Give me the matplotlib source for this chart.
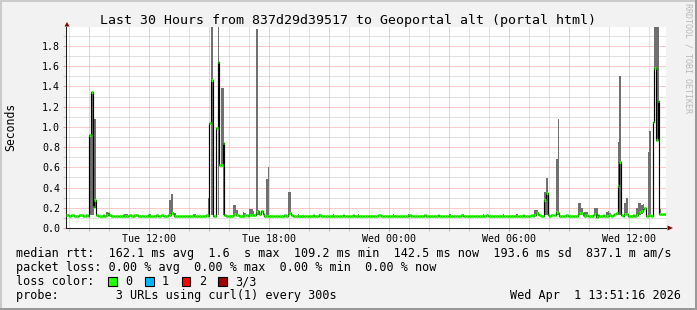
import numpy as np
import matplotlib
matplotlib.use('Agg')
import matplotlib.pyplot as plt
from matplotlib.patches import Rectangle, Polygon
from matplotlib.ticker import MultipleLocator, FuncFormatter

# median rtt of the 3 urls, one value per 5 minute step (ms)
median_ms = [
    125, 128, 122, 126, 124, 121, 119, 123, 127, 125, 120, 122, 124, 121, 920, 1350, 210, 280, 126, 122,
    119, 121, 124, 120, 131, 152, 133, 122, 120, 118, 121, 123, 119, 122, 125, 121, 118, 123, 126, 121,
    119, 124, 128, 122, 120, 117, 121, 119, 123, 125, 122, 120, 118, 121, 124, 120, 122, 126, 123, 119,
    121, 124, 128, 145, 136, 123, 121, 120, 118, 121, 123, 119, 122, 120, 118, 121, 124, 122, 119, 117,
    120, 122, 121, 119, 124, 122, 1040, 1460, 120, 121, 990, 1645, 620, 620, 840, 124, 121, 119, 123, 121,
    131, 142, 128, 125, 119, 122, 120, 124, 127, 121, 126, 132, 128, 124, 158, 170, 140, 165, 135, 122,
    118, 121, 119, 117, 121, 123, 120, 118, 122, 119, 121, 124, 121, 138, 148, 130, 119, 122, 120, 118,
    121, 123, 119, 117, 120, 122, 118, 121, 124, 120, 119, 122, 125, 121, 118, 120, 123, 119, 121, 117,
    120, 122, 119, 121, 118, 123, 126, 121, 119, 117, 120, 122, 124, 120, 118, 121, 119, 122, 120, 117,
    119, 121, 123, 120, 118, 121, 119, 124, 128, 122, 119, 121, 118, 120, 123, 121, 119, 117, 120, 122,
    121, 118, 120, 123, 119, 121, 125, 122, 118, 120, 122, 119, 121, 117, 120, 124, 121, 119, 122, 118,
    120, 119, 121, 124, 122, 118, 120, 121, 119, 123, 120, 118, 121, 122, 119, 117, 120, 125, 121, 119,
    122, 120, 118, 121, 119, 123, 121, 118, 120, 122, 119, 121, 124, 120, 118, 121, 119, 122, 120, 121,
    118, 120, 123, 121, 119, 122, 118, 120, 121, 119, 123, 120, 118, 121, 124, 122, 119, 120, 121, 124,
    121, 132, 150, 140, 128, 121, 119, 280, 350, 124, 121, 126, 130, 125, 160, 150, 123, 120, 122, 119,
    124, 120, 118, 121, 123, 119, 121, 138, 152, 145, 128, 121, 125, 122, 119, 123, 127, 140, 109, 125,
    118, 121, 124, 122, 119, 121, 126, 122, 130, 138, 150, 420, 650, 124, 121, 135, 142, 122, 118, 120,
    124, 121, 130, 145, 160, 170, 185, 198, 122, 120, 124, 121, 1050, 1580, 870, 1260, 140, 142, 143, 142.5,
]

# smoke (min .. max of the 3 urls) where it differs from the median: (step, lo ms, hi ms)
smoke_ms = [
    (0, 120, 140), (1, 120, 138),
    (14, 125, 920), (15, 125, 1350), (16, 130, 740), (17, 200, 1080),
    (24, 125, 160), (35, 118, 140), (36, 118, 138), (50, 120, 140),
    (62, 125, 280), (63, 125, 340), (64, 125, 160), (65, 120, 150),
    (76, 120, 140), (77, 120, 138),
    (85, 122, 300), (87, 130, 2500), (91, 130, 2500), (93, 620, 1380), (94, 130, 1380),
    (100, 122, 230), (101, 125, 230), (102, 122, 180),
    (106, 120, 160), (107, 120, 150), (110, 120, 190), (111, 125, 190), (112, 122, 170),
    (114, 130, 1970), (115, 130, 180),
    (120, 118, 480), (121, 118, 600),
    (133, 125, 360), (134, 130, 360),
    (139, 118, 135), (152, 118, 134), (160, 118, 134), (175, 118, 135), (196, 118, 136),
    (205, 118, 135), (230, 118, 136), (238, 118, 135), (250, 118, 135), (262, 118, 136), (270, 118, 134),
    (281, 122, 180), (282, 125, 180), (283, 122, 160),
    (287, 125, 360), (288, 125, 490),
    (294, 130, 680), (295, 130, 1080),
    (307, 125, 250), (308, 125, 250), (309, 125, 200),
    (311, 120, 160), (312, 120, 160), (317, 120, 200), (318, 109, 200),
    (324, 118, 160), (325, 118, 170), (326, 118, 150),
    (331, 130, 850), (332, 130, 1500),
    (335, 125, 250), (336, 125, 300),
    (342, 125, 200), (343, 125, 250), (344, 130, 250), (345, 140, 230), (346, 150, 240),
    (349, 120, 750), (350, 120, 960),
    (353, 1580, 2500), (354, 870, 2500), (355, 1260, 2500), (356, 135, 190),
]

# hours counted from Tue 00:00
end_hour = 37 + 51 / 60 + 16 / 3600
span_hours = 30
step_hours = 5 / 60

xtick_hours = [12, 18, 24, 30, 36]
xtick_labels = ['Tue 12:00', 'Tue 18:00', 'Wed 00:00', 'Wed 06:00', 'Wed 12:00']
y_max = 1.99

title = 'Last 30 Hours from 837d29d39517 to Geoportal alt (portal html)'
stats_lines = [
    'median rtt:  162.1 ms avg  1.6  s max  109.2 ms min  142.5 ms now  193.6 ms sd  837.1 m am/s',
    'packet loss: 0.00 % avg  0.00 % max  0.00 % min  0.00 % now',
]
loss_title = 'loss color:'
loss_labels = ['0', '1', '2', '3/3']
loss_colors = ['#26ff00', '#00b8ff', '#ff0000', '#a00000']
probe_text = 'probe:        3 URLs using curl(1) every 300s'
stamp = 'Wed Apr  1 13:51:16 2026'

W, H = 697, 310
MONO = 'DejaVu Sans Mono'


def fx(px):
    return px / W


def fy(py):
    return 1 - py / H


fig = plt.figure(figsize=(W / 100, H / 100), dpi=100)
fig.patch.set_facecolor('#f2f2f2')

# frame shading
fig.add_artist(Rectangle((0, fy(2)), 1, 2 / H, transform=fig.transFigure, color='#cbcbcb', lw=0))
fig.add_artist(Rectangle((0, 0), 2 / W, 1, transform=fig.transFigure, color='#cbcbcb', lw=0))
fig.add_artist(Rectangle((0, 0), 1, 2 / H, transform=fig.transFigure, color='#999999', lw=0))
fig.add_artist(Rectangle((fx(695), 0), 2 / W, 1, transform=fig.transFigure, color='#999999', lw=0))

ax_left, ax_right, ax_bottom = 66, 666, 228
ax_top = ax_bottom - y_max * 101.1
ax = fig.add_axes([fx(ax_left), fy(ax_bottom), (ax_right - ax_left) / W, (ax_bottom - ax_top) / H])
ax.set_facecolor('white')

med = np.array(median_ms, dtype=float) / 1000
lo = med.copy()
hi = med.copy()
for i, a, b in smoke_ms:
    lo[i] = a / 1000
    hi[i] = b / 1000

start = end_hour - span_hours
t = start + step_hours * np.arange(len(med))

ax.bar(t, hi - lo, bottom=lo, width=step_hours, align='edge', color='#707070', linewidth=0, zorder=2)
ax.step(np.append(t, t[-1] + step_hours), np.append(med, med[-1]), where='post',
        color='black', lw=0.85, zorder=3)
ax.hlines(med, t, t + step_hours, colors=loss_colors[0], lw=2.2, zorder=4, capstyle='butt')

ax.set_xlim(start, end_hour)
ax.set_ylim(0, y_max)

labels = dict(zip(xtick_hours, xtick_labels))
ax.xaxis.set_major_locator(MultipleLocator(3))
ax.xaxis.set_minor_locator(MultipleLocator(1))
ax.xaxis.set_major_formatter(FuncFormatter(lambda v, p: labels.get(int(round(v)), '')))
ax.yaxis.set_major_locator(MultipleLocator(0.2))
ax.yaxis.set_minor_locator(MultipleLocator(0.1))
ax.yaxis.set_major_formatter(FuncFormatter(lambda v, p: '%.1f' % v))

ax.set_axisbelow(True)
ax.grid(which='major', color='#f29a9a', linestyle=(0, (1, 1)), linewidth=0.72)
ax.grid(which='minor', color='#c4c4c4', linestyle=(0, (1, 1)), linewidth=0.72)

ax.tick_params(which='major', direction='out', length=2.2, width=0.72, color='#f29a9a',
               labelsize=7.2, pad=2.2)
ax.tick_params(which='minor', direction='out', length=2.2, width=0.72, color='#c4c4c4')
for lab in ax.get_xticklabels() + ax.get_yticklabels():
    lab.set_fontfamily(MONO)

for s in ['top', 'right']:
    ax.spines[s].set_visible(False)
for s in ['left', 'bottom']:
    ax.spines[s].set_color('#202020')
    ax.spines[s].set_linewidth(0.75)

# axis arrows
fig.add_artist(Polygon([[fx(64.5), fy(26.5)], [fx(69.5), fy(26.5)], [fx(67), fy(22)]],
                       closed=True, transform=fig.transFigure, color='#800000', lw=0))
fig.add_artist(Polygon([[fx(667.5), fy(225.5)], [fx(667.5), fy(230.5)], [fx(673), fy(228)]],
                       closed=True, transform=fig.transFigure, color='#800000', lw=0))

fig.text(fx(347.5), fy(24), title, ha='center', va='baseline', fontsize=9.55, family=MONO)
fig.text(fx(10.5), fy(127), 'Seconds', rotation=90, ha='center', va='center', fontsize=8.3, family=MONO)
fig.text(fx(688), fy(3), 'RRDTOOL / TOBI OETIKER', rotation=270, ha='center', va='top',
         fontsize=6, family=MONO, color='#b8b8b8')

fig.text(fx(15.5), fy(257.5), stats_lines[0], ha='left', va='baseline', fontsize=8.5, family=MONO)
fig.text(fx(15.5), fy(271.5), stats_lines[1], ha='left', va='baseline', fontsize=8.5, family=MONO)
fig.text(fx(15.5), fy(285.3), loss_title, ha='left', va='baseline', fontsize=8.5, family=MONO)
box_x = [108.3, 145, 181.7, 218.3]
for bx, lab, col in zip(box_x, loss_labels, loss_colors):
    fig.add_artist(Rectangle((fx(bx), fy(285.5)), 8.5 / W, 8.5 / H, transform=fig.transFigure,
                             facecolor=col, edgecolor='black', lw=0.8))
    fig.text(fx(bx + 17), fy(285.3), lab, ha='left', va='baseline', fontsize=8.5, family=MONO)
fig.text(fx(15.5), fy(299.5), probe_text, ha='left', va='baseline', fontsize=8.5, family=MONO)
fig.text(fx(681), fy(299.5), stamp, ha='right', va='baseline', fontsize=8.5, family=MONO)

fig.savefig('out.png', dpi=100, facecolor=fig.get_facecolor())
